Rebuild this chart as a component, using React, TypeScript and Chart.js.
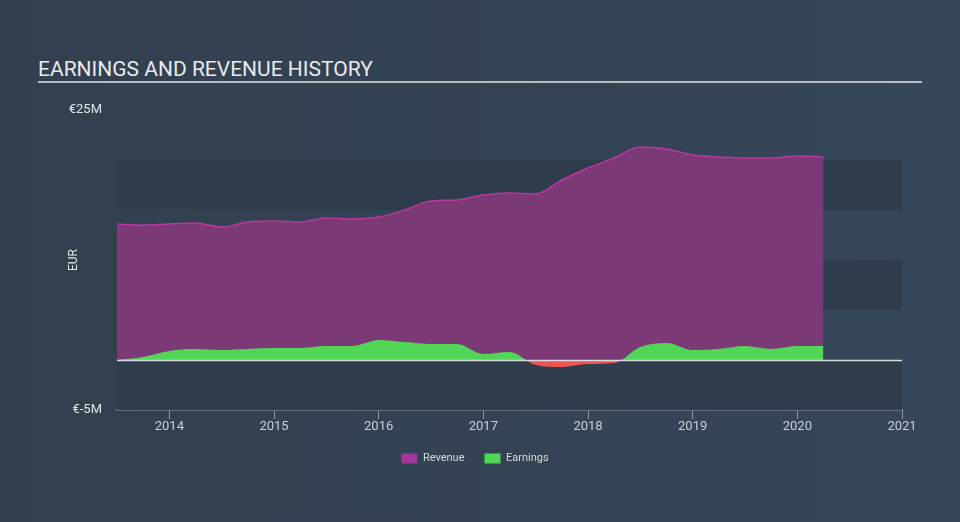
import React, { useEffect, useRef } from "react";
import { Chart, registerables } from "chart.js";

Chart.register(...registerables);

// ---- data (EUR millions) ----
const periods = [
  2013.5, 2013.75, 2014.0, 2014.25, 2014.5, 2014.75, 2015.0, 2015.25, 2015.5, 2015.75,
  2016.0, 2016.25, 2016.5, 2016.75, 2017.0, 2017.25, 2017.5, 2017.75, 2018.0, 2018.25,
  2018.5, 2018.75, 2019.0, 2019.25, 2019.5, 2019.75, 2020.0, 2020.25,
];
const revenue = [
  13.6, 13.5, 13.6, 13.7, 13.3, 13.8, 13.9, 13.8, 14.2, 14.1,
  14.3, 15.0, 15.9, 16.0, 16.5, 16.7, 16.6, 18.0, 19.2, 20.2,
  21.3, 21.1, 20.5, 20.3, 20.2, 20.2, 20.4, 20.3,
];
const earnings = [
  0.0, 0.3, 0.9, 1.1, 1.0, 1.1, 1.2, 1.2, 1.4, 1.4,
  2.0, 1.8, 1.6, 1.6, 0.6, 0.8, -0.5, -0.7, -0.4, -0.3,
  1.3, 1.7, 1.0, 1.1, 1.4, 1.1, 1.4, 1.4,
];
const yTickValues = [-5, 25];
const xTickYears = [2014, 2015, 2016, 2017, 2018, 2019, 2020, 2021];
const bandRanges = [
  [15, 20],
  [5, 10],
  [-5, 0],
];

const decorPlugin = {
  id: "decor",
  beforeDatasetsDraw(chart: any) {
    const { ctx, chartArea, scales } = chart;
    const y = scales.y;
    ctx.save();
    ctx.fillStyle = "#2e3c4b";
    for (const [lo, hi] of bandRanges) {
      const top = y.getPixelForValue(hi);
      const bot = y.getPixelForValue(lo);
      ctx.fillRect(chartArea.left, top, chartArea.right - chartArea.left, bot - top);
    }
    ctx.restore();
  },
  afterDatasetsDraw(chart: any) {
    const { ctx, chartArea, scales } = chart;
    const y0 = Math.round(scales.y.getPixelForValue(0)) + 0.5;
    ctx.save();
    ctx.strokeStyle = "#d9dde2";
    ctx.lineWidth = 1.5;
    ctx.beginPath();
    ctx.moveTo(chartArea.left, y0);
    ctx.lineTo(chartArea.right, y0);
    ctx.stroke();
    // axis title
    ctx.translate(74, (chartArea.top + chartArea.bottom) / 2);
    ctx.rotate(-Math.PI / 2);
    ctx.fillStyle = "#e2e5e8";
    ctx.font = "12px Roboto";
    ctx.textAlign = "center";
    ctx.textBaseline = "middle";
    ctx.fillText("EUR", 0, 0);
    ctx.restore();
  },
};

export default function App() {
  const ref = useRef<HTMLCanvasElement | null>(null);

  useEffect(() => {
    document.body.style.margin = "0";
    const canvas = ref.current!;
    const chart = new Chart(canvas, {
      type: "line",
      data: {
        datasets: [
          {
            label: "Revenue",
            data: periods.map((p, i) => ({ x: p, y: revenue[i] })),
            borderColor: "#b7399f",
            borderWidth: 1.5,
            backgroundColor: "#a0379a",
            fill: { target: "origin", above: "#7b3a75", below: "#7b3a75" },
            pointRadius: 0,
            cubicInterpolationMode: "monotone",
            order: 1,
          } as any,
          {
            label: "Earnings",
            data: periods.map((p, i) => ({ x: p, y: earnings[i] })),
            borderColor: "rgba(0,0,0,0)",
            borderWidth: 0,
            backgroundColor: "#4fd655",
            fill: { target: "origin", above: "#52d655", below: "#ef5350" },
            pointRadius: 0,
            cubicInterpolationMode: "monotone",
            order: 0,
          } as any,
        ],
      },
      options: {
        animation: false,
        responsive: false,
        maintainAspectRatio: false,
        layout: { padding: { top: 110, left: 48, right: 58, bottom: 48 } },
        plugins: {
          legend: {
            position: "bottom",
            labels: {
              boxWidth: 16,
              boxHeight: 10,
              color: "#d6d9dd",
              font: { family: "Roboto", size: 11 },
              padding: 20,
              generateLabels: (ch: any) =>
                ch.data.datasets.map((d: any, i: number) => ({
                  text: d.label,
                  fillStyle: d.backgroundColor,
                  strokeStyle: d.backgroundColor,
                  lineWidth: 0,
                  fontColor: "#d6d9dd",
                  datasetIndex: i,
                  hidden: false,
                })),
            },
          },
          tooltip: { enabled: false },
        },
        scales: {
          x: {
            type: "linear",
            min: 2013.5,
            max: 2021,
            afterBuildTicks: (s: any) => {
              s.ticks = xTickYears.map((v) => ({ value: v }));
            },
            afterFit: (s: any) => {
              s.height = 23;
            },
            ticks: {
              color: "#c9ced4",
              font: { family: "Roboto", size: 13 },
              padding: 0,
              maxRotation: 0,
              callback: (v: any) => String(v),
            },
            grid: {
              display: true,
              drawOnChartArea: false,
              drawTicks: true,
              tickLength: 9,
              color: "#8a97a5",
            },
            border: { display: true, color: "#8a97a5", width: 1.5 },
          },
          y: {
            type: "linear",
            min: -5,
            max: 25,
            afterBuildTicks: (s: any) => {
              s.ticks = yTickValues.map((v) => ({ value: v }));
            },
            afterFit: (s: any) => {
              s.width = 69;
            },
            ticks: {
              color: "#e2e5e8",
              font: { family: "Roboto", size: 13 },
              padding: 15,
              callback: (v: any) => "€" + v + "M",
            },
            grid: { display: false, drawTicks: false },
            border: { display: false },
          },
        },
      },
      plugins: [decorPlugin],
    });
    return () => chart.destroy();
  }, []);

  return (
    <div
      style={{
        position: "relative",
        width: 960,
        height: 522,
        background: "linear-gradient(90deg, #323f4e 0%, #36475a 100%)",
        fontFamily: "Roboto",
        overflow: "hidden",
      }}
    >
      <div
        style={{
          position: "absolute",
          left: 38,
          top: 57,
          width: 884,
          color: "#e8eaec",
          fontSize: 21,
          lineHeight: "24px",
          paddingBottom: 0,
          borderBottom: "2px solid #b5bbc2",
          letterSpacing: 0,
        }}
      >
        EARNINGS AND REVENUE HISTORY
      </div>
      <canvas ref={ref} width={960} height={522} style={{ position: "absolute", left: 0, top: 0 }} />
    </div>
  );
}
